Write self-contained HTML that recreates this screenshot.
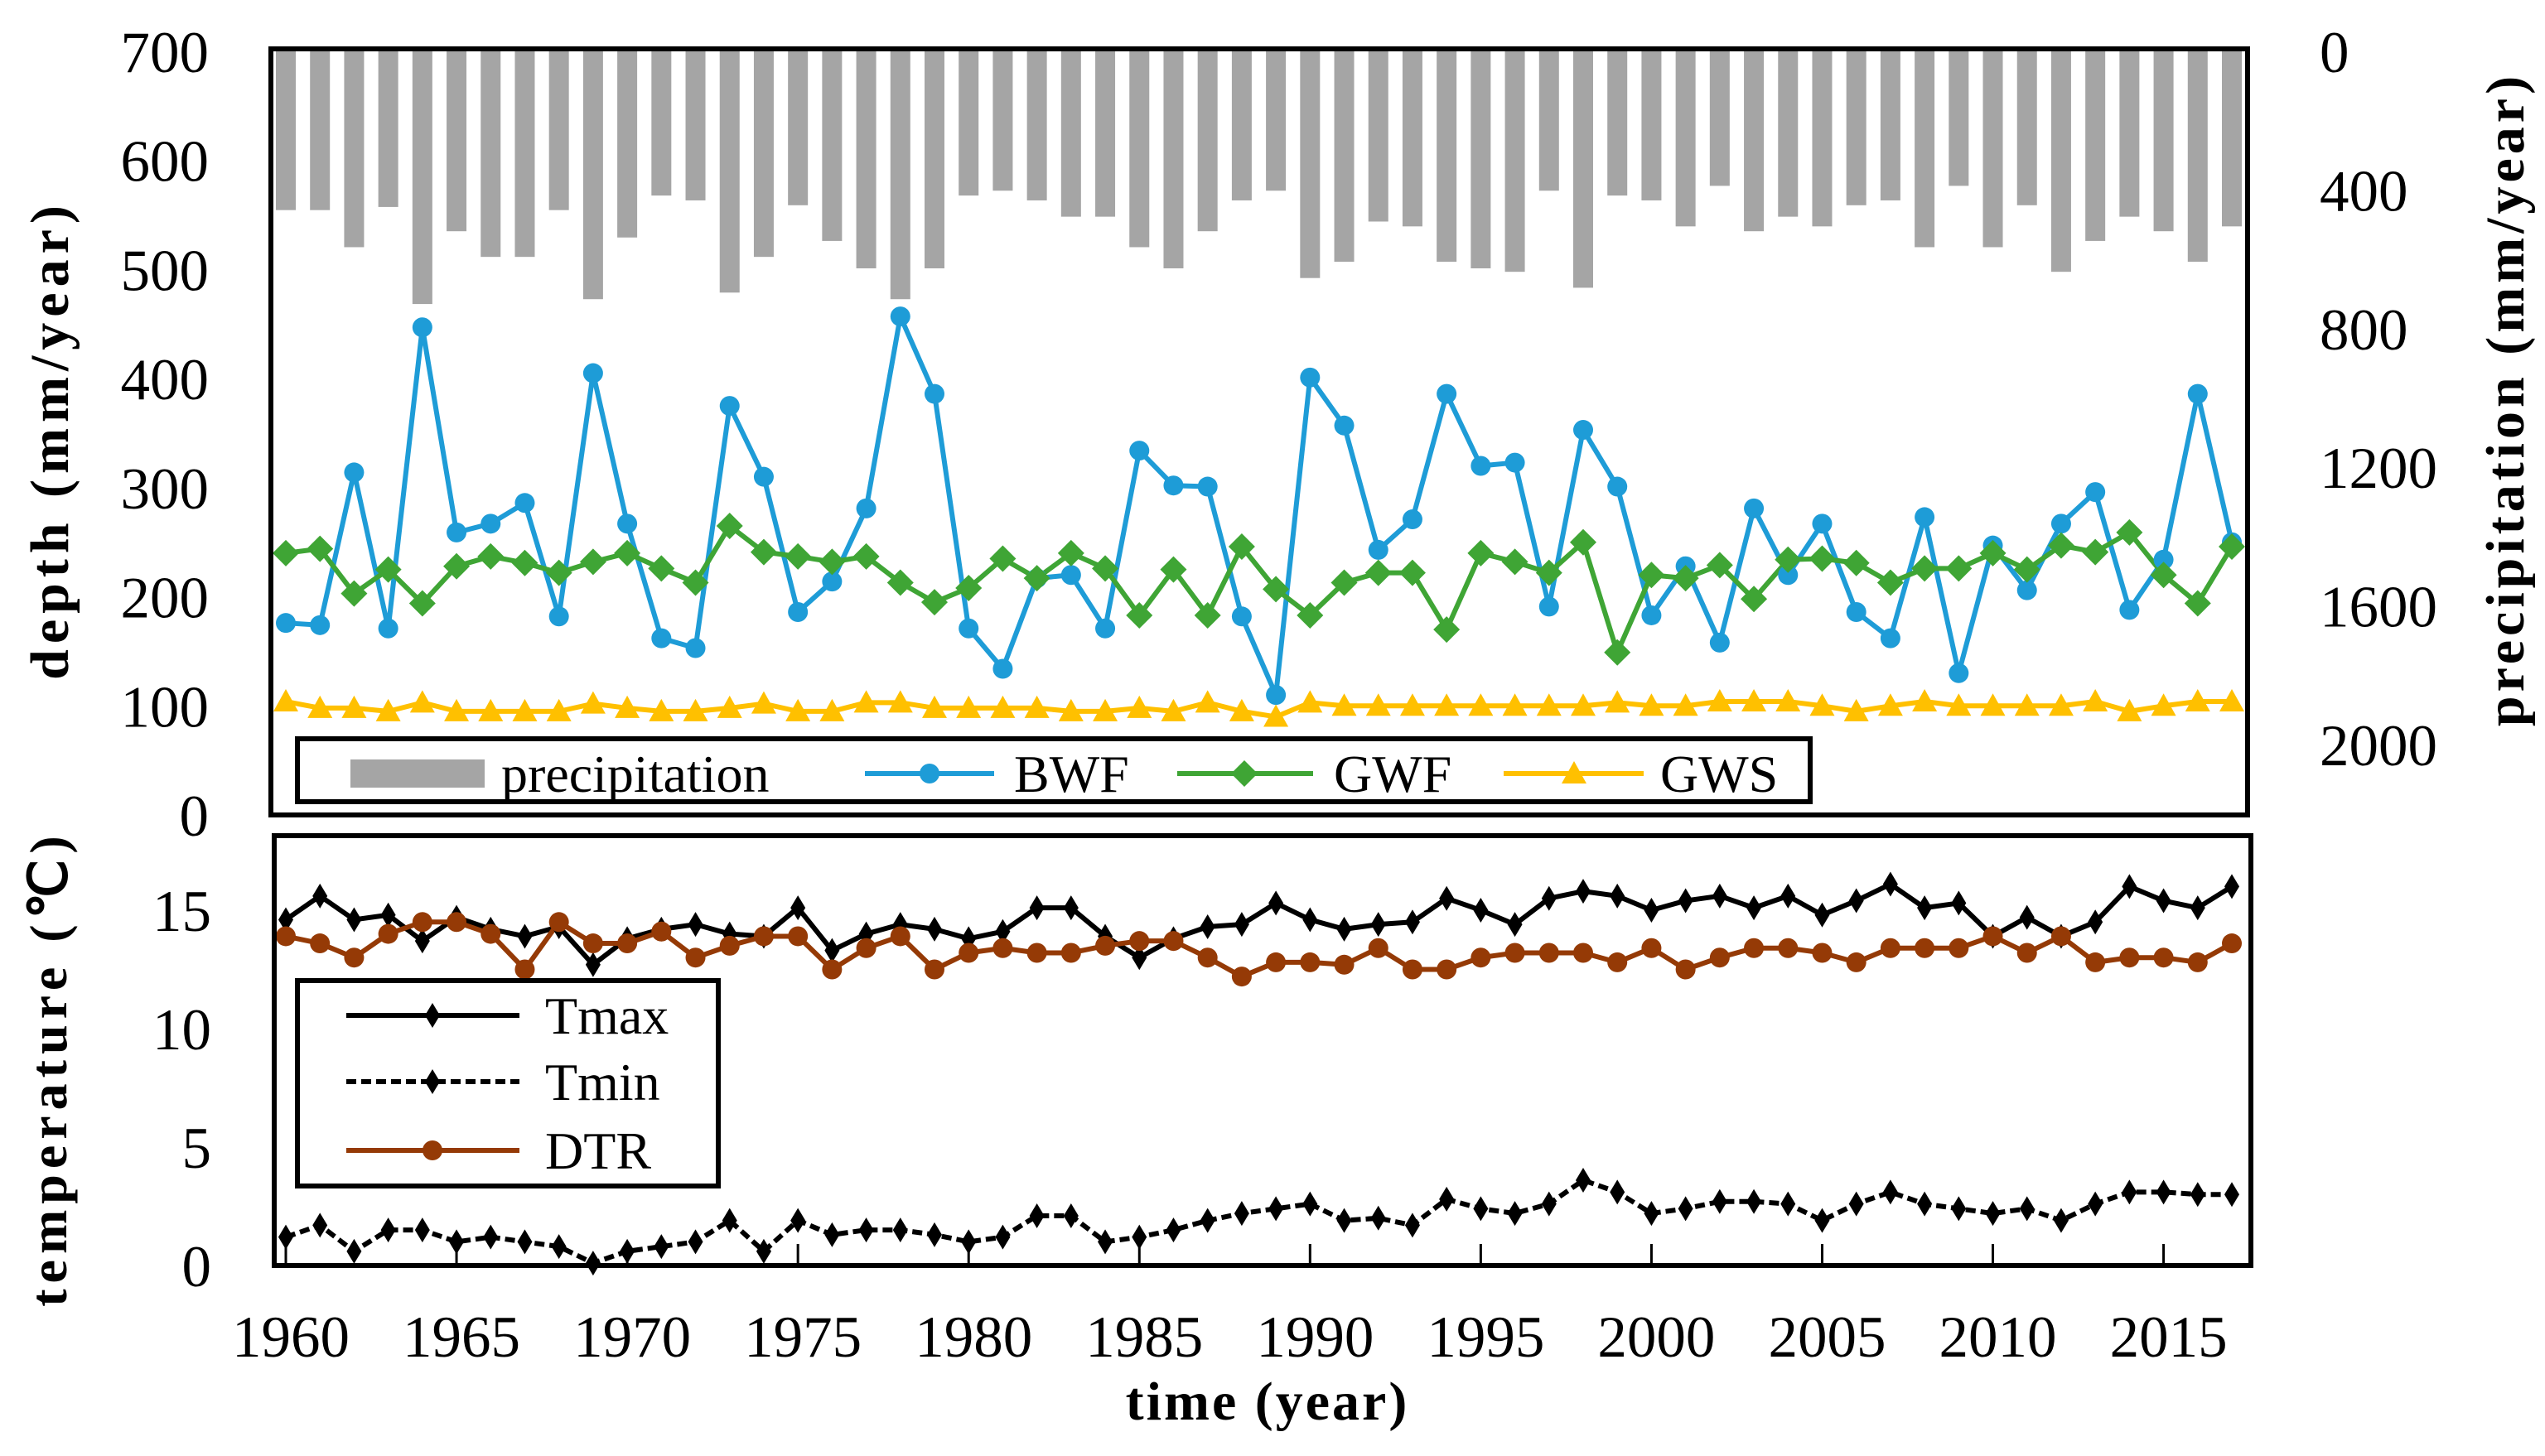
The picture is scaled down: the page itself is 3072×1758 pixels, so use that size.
<!DOCTYPE html>
<html><head><meta charset="utf-8"><style>
html,body{margin:0;padding:0;background:#fff;}
svg{display:block;}
text{font-family:"Liberation Serif",serif;fill:#000;}
</style></head><body>
<svg id="chart" width="3072" height="1758" viewBox="0 0 3072 1758" xmlns="http://www.w3.org/2000/svg">
<g id="topPanel"></g>
<g id="botPanel"></g>
</svg>
<script>
const years = [];
for (let y = 1960; y <= 2017; y++) years.push(y);
const precipitation = [458,458,565,449,729,519,593,593,458,715,537,416,430,696,593,444,547,626,715,626,416,402,430,477,477,565,626,519,430,402,654,607,491,505,607,626,636,402,682,416,430,505,388,519,477,505,444,430,565,388,565,444,636,547,477,519,607,505];
const bwf = [176,174,314,171,447,259,267,286,182,405,267,162,153,375,310,186,214,281,457,386,171,134,217,220,171,334,302,301,182,110,401,357,243,271,386,320,323,191,353,301,183,228,158,281,220,267,186,162,273,130,247,206,267,296,188,234,386,250];
const gwf = [240,244,203,225,194,228,237,231,222,232,240,226,213,265,241,237,232,237,213,195,208,235,217,240,226,183,225,183,246,207,183,213,222,222,170,240,232,222,250,149,220,217,229,198,234,235,231,213,226,226,240,225,247,241,259,220,194,246];
const gws = [104,98,98,95,103,95,95,95,95,102,98,95,95,98,102,95,95,103,103,98,98,98,98,95,95,98,95,103,95,90,103,100,100,100,100,100,100,100,100,103,100,100,104,104,104,100,95,100,104,100,100,100,100,104,95,100,104,104];
const tmax = [14.6,15.6,14.6,14.8,13.7,14.7,14.2,13.9,14.3,12.7,13.8,14.2,14.4,14.0,13.9,15.1,13.3,14.0,14.4,14.2,13.8,14.1,15.1,15.1,13.9,13.0,13.8,14.3,14.4,15.3,14.6,14.2,14.4,14.5,15.5,15.0,14.4,15.5,15.8,15.6,15.0,15.4,15.6,15.1,15.6,14.8,15.4,16.1,15.1,15.3,13.9,14.7,13.9,14.5,16.0,15.4,15.1,16.0];
const tmin = [1.2,1.7,0.6,1.5,1.5,1.0,1.2,1.0,0.8,0.1,0.6,0.8,1.0,1.9,0.6,1.9,1.3,1.5,1.5,1.3,1.0,1.2,2.1,2.1,1.0,1.2,1.5,1.9,2.2,2.4,2.6,1.9,2.0,1.7,2.8,2.4,2.2,2.6,3.6,3.1,2.2,2.4,2.7,2.7,2.6,1.9,2.6,3.1,2.6,2.4,2.2,2.4,1.9,2.6,3.1,3.1,3.0,3.0];
const dtr = [13.9,13.6,13.0,14.0,14.5,14.5,14.0,12.5,14.5,13.6,13.6,14.1,13.0,13.5,13.9,13.9,12.5,13.4,13.9,12.5,13.2,13.4,13.2,13.2,13.5,13.7,13.7,13.0,12.2,12.8,12.8,12.7,13.4,12.5,12.5,13.0,13.2,13.2,13.2,12.8,13.4,12.5,13.0,13.4,13.4,13.2,12.8,13.4,13.4,13.4,13.9,13.2,13.9,12.8,13.0,13.0,12.8,13.6];
const depthTicks = [0,100,200,300,400,500,600,700];
const precipTicks = [0,400,800,1200,1600,2000];
const tempTicks = [0,5,10,15];
const yearTicks = [1960,1965,1970,1975,1980,1985,1990,1995,2000,2005,2010,2015];

const NS = "http://www.w3.org/2000/svg";
function mk(parent, tag, attrs, txt) {
  const e = document.createElementNS(NS, tag);
  for (const k in attrs) e.setAttribute(k, attrs[k]);
  if (txt !== undefined) e.textContent = txt;
  parent.appendChild(e);
  return e;
}
const X = yr => 345 + (yr - 1960) * (2694 - 345) / 57;
const YD = v => 984 - v * (984 - 62) / 700;
const YP = v => 62 + v * (899 - 62) / 2000;
const YT = v => 1528 - v * 28.6;

const topG = document.getElementById('topPanel');
const botG = document.getElementById('botPanel');

years.forEach((yr, i) => {
  const b = mk(topG, 'rect', {x: X(yr) - 12, y: 62, width: 24, height: YP(precipitation[i]) - 62, fill: '#a5a5a5'});
  
  
});

function line(parent, vals, yf, color, name, dash) {
  const pts = years.map((yr, i) => X(yr) + ',' + yf(vals[i])).join(' ');
  const p = mk(parent, 'polyline', {points: pts, fill: 'none', stroke: color, 'stroke-width': 6, 'stroke-linejoin': 'round'});
  if (dash) p.setAttribute('stroke-dasharray', dash);
  
  
}
function marker(parent, type, cx, cy, color, sz) {
  let m;
  if (type === 'circle') m = mk(parent, 'circle', {cx: cx, cy: cy, r: sz, fill: color});
  else if (type === 'diamond') m = mk(parent, 'polygon', {points: `${cx},${cy-sz} ${cx+sz},${cy} ${cx},${cy+sz} ${cx-sz},${cy}`, fill: color});
  else if (type === 'tri') m = mk(parent, 'polygon', {points: `${cx},${cy-sz} ${cx+sz},${cy+sz*0.8} ${cx-sz},${cy+sz*0.8}`, fill: color});
  else m = mk(parent, 'polygon', {points: `${cx},${cy-sz} ${cx+sz*0.6},${cy} ${cx},${cy+sz} ${cx-sz*0.6},${cy}`, fill: color});
  return m;
}
function markers(parent, vals, yf, color, type, sz, name) {
  years.forEach((yr, i) => {
    const m = marker(parent, type, X(yr), yf(vals[i]), color, sz);
    
    
  });
}
line(topG, bwf, YD, '#1e9cd7', 'bwf');
line(topG, gwf, YD, '#3fa535', 'gwf');
line(topG, gws, YD, '#ffc000', 'gws');
markers(topG, bwf, YD, '#1e9cd7', 'circle', 12, 'bwf');
markers(topG, gwf, YD, '#3fa535', 'diamond', 16, 'gwf');
markers(topG, gws, YD, '#ffc000', 'tri', 15, 'gws');

const tf = mk(topG, 'rect', {x: 327, y: 59, width: 2386, height: 925, fill: 'none', stroke: '#000', 'stroke-width': 6});



depthTicks.forEach(v => {
  const t = mk(topG, 'text', {x: 252, y: YD(v) + 25, 'font-size': 71, 'text-anchor': 'end'}, v);
  
  
});
precipTicks.forEach(v => {
  const t = mk(topG, 'text', {x: 2800, y: YP(v) + 25, 'font-size': 71, 'text-anchor': 'start'}, v);
  
  
});
const lt = mk(topG, 'text', {x: 0, y: 0, 'font-size': 66, 'font-weight': 'bold', 'letter-spacing': 7, 'text-anchor': 'middle', transform: 'translate(82,531) rotate(-90)'}, 'depth (mm/year)');


const rt = mk(topG, 'text', {x: 0, y: 0, 'font-size': 66, 'font-weight': 'bold', 'letter-spacing': 5, 'text-anchor': 'middle', transform: 'translate(3046,482) rotate(-90)'}, 'precipitation  (mm/year)');



const lg = mk(topG, 'g', {});


mk(lg, 'rect', {x: 359, y: 892, width: 1826, height: 76, fill: '#fff', stroke: '#000', 'stroke-width': 6});
mk(lg, 'rect', {x: 423, y: 917, width: 162, height: 34, fill: '#a5a5a5'});
mk(lg, 'text', {x: 605, y: 956, 'font-size': 64}, 'precipitation');
mk(lg, 'line', {x1: 1044, y1: 934, x2: 1200, y2: 934, stroke: '#1e9cd7', 'stroke-width': 6});
marker(lg, 'circle', 1122, 934, '#1e9cd7', 12);
mk(lg, 'text', {x: 1224, y: 956, 'font-size': 64}, 'BWF');
mk(lg, 'line', {x1: 1421, y1: 934, x2: 1585, y2: 934, stroke: '#3fa535', 'stroke-width': 6});
marker(lg, 'diamond', 1502, 934, '#3fa535', 16);
mk(lg, 'text', {x: 1610, y: 956, 'font-size': 64}, 'GWF');
mk(lg, 'line', {x1: 1815, y1: 934, x2: 1984, y2: 934, stroke: '#ffc000', 'stroke-width': 6});
marker(lg, 'tri', 1900, 934, '#ffc000', 15);
mk(lg, 'text', {x: 2004, y: 956, 'font-size': 64}, 'GWS');

line(botG, tmax, YT, '#000', 'tmax');
line(botG, tmin, YT, '#000', 'tmin', '12,6');
line(botG, dtr, YT, '#953a06', 'dtr');
markers(botG, tmax, YT, '#000', 'thin', 15, 'tmax');
markers(botG, tmin, YT, '#000', 'thin', 15, 'tmin');
markers(botG, dtr, YT, '#953a06', 'circle', 12, 'dtr');

const bf = mk(botG, 'rect', {x: 331, y: 1009, width: 2386, height: 519, fill: 'none', stroke: '#000', 'stroke-width': 6});


yearTicks.forEach(yr => {
  const tk = mk(botG, 'line', {x1: X(yr), y1: 1528, x2: X(yr), y2: 1502, stroke: '#000', 'stroke-width': 3});
  
  
  const t = mk(botG, 'text', {x: X(yr) + 6, y: 1638, 'font-size': 71, 'text-anchor': 'middle'}, yr);
  
  
});
tempTicks.forEach(v => {
  const t = mk(botG, 'text', {x: 255, y: YT(v) + 25, 'font-size': 71, 'text-anchor': 'end'}, v);
  
  
});
const tt = mk(botG, 'text', {x: 0, y: 0, 'font-size': 64, 'font-weight': 'bold', 'letter-spacing': 7, 'text-anchor': 'middle', transform: 'translate(80,1290) rotate(-90)'}, 'temperature (℃)');


const xt = mk(botG, 'text', {x: 1530, y: 1714, 'font-size': 66, 'font-weight': 'bold', 'letter-spacing': 3, 'text-anchor': 'middle'}, 'time (year)');



const lb = mk(botG, 'g', {});


mk(lb, 'rect', {x: 359, y: 1184, width: 508, height: 248, fill: '#fff', stroke: '#000', 'stroke-width': 6});
mk(lb, 'line', {x1: 418, y1: 1226, x2: 627, y2: 1226, stroke: '#000', 'stroke-width': 6});
marker(lb, 'thin', 522, 1226, '#000', 15);
mk(lb, 'text', {x: 658, y: 1248, 'font-size': 64}, 'Tmax');
mk(lb, 'line', {x1: 418, y1: 1306, x2: 627, y2: 1306, stroke: '#000', 'stroke-width': 6, 'stroke-dasharray': '12,6'});
marker(lb, 'thin', 522, 1306, '#000', 15);
mk(lb, 'text', {x: 658, y: 1328, 'font-size': 64}, 'Tmin');
mk(lb, 'line', {x1: 418, y1: 1389, x2: 627, y2: 1389, stroke: '#953a06', 'stroke-width': 6});
marker(lb, 'circle', 522, 1389, '#953a06', 12);
mk(lb, 'text', {x: 658, y: 1411, 'font-size': 64}, 'DTR');
</script>
</body></html>
